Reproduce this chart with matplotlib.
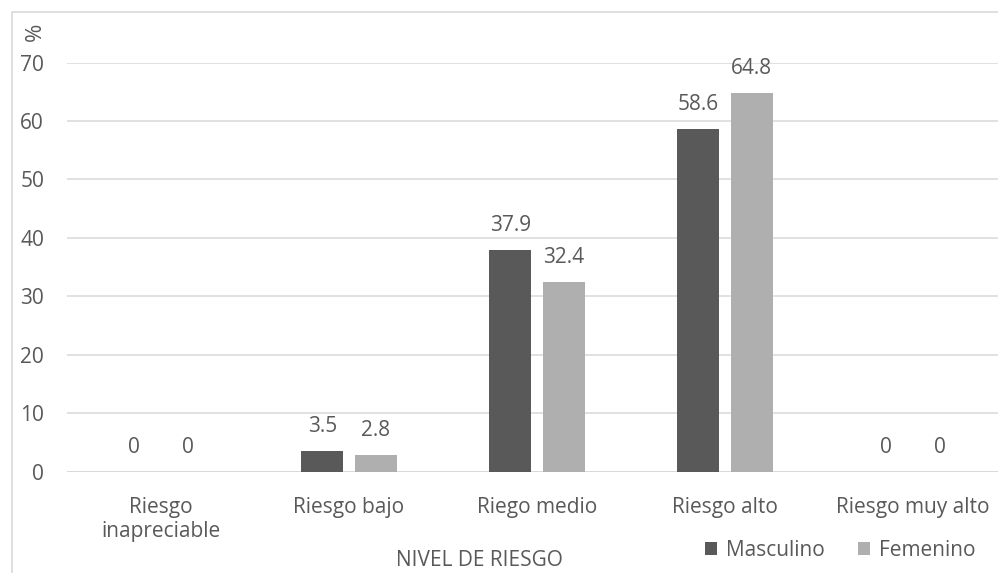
import matplotlib
matplotlib.use('Agg')
import matplotlib.pyplot as plt
import numpy as np
from matplotlib.patches import Rectangle

categorias = ['Riesgo\ninapreciable', 'Riesgo bajo', 'Riego medio', 'Riesgo alto', 'Riesgo muy alto']
masculino = [0, 3.5, 37.9, 58.6, 0]
femenino = [0, 2.8, 32.4, 64.8, 0]
yticks = [0, 10, 20, 30, 40, 50, 60, 70]

TXT = '#595959'
FS = 15
plt.rcParams['font.family'] = ['Open Sans', 'DejaVu Sans']

fig = plt.figure(figsize=(9.98, 5.73), dpi=100)
# el área de trazado se corta por la derecha, como en el original
ax = fig.add_axes([67 / 998, 1 - 471.5 / 573, 940 / 998, 409 / 573])

# marco del gráfico
fig.patches.append(Rectangle((11.5 / 998, -0.1), 1.2, 1 - 11.5 / 573 + 0.1,
                             transform=fig.transFigure, fill=False,
                             edgecolor='#d9d9d9', linewidth=1.2))

x = np.arange(len(categorias))
w = 0.223
off = 0.142
b1 = ax.bar(x - off, masculino, w, color='#595959', label='Masculino', zorder=3)
b2 = ax.bar(x + off, femenino, w, color='#afafaf', label='Femenino', zorder=3)

for bars, vals in ((b1, masculino), (b2, femenino)):
    for r, v in zip(bars, vals):
        ax.annotate(f'{v:g}', (r.get_x() + r.get_width() / 2, v), xytext=(0, 13.5),
                    textcoords='offset points', ha='center', va='baseline',
                    fontsize=FS, color=TXT)

ax.set_xlim(-0.5, len(categorias) - 0.5)
ax.set_ylim(0, 70)
ax.set_yticks(yticks)
ax.set_xticks(x)
ax.set_xticklabels(categorias, fontsize=FS, color=TXT, linespacing=1.25)
ax.tick_params(axis='y', labelsize=FS, colors=TXT, length=0, pad=16.5)
ax.tick_params(axis='x', length=0, pad=18)
ax.grid(axis='y', color='#d9d9d9', linewidth=1.1, zorder=0)
for s in ax.spines.values():
    s.set_visible(False)
ax.axhline(0, color='#d9d9d9', linewidth=1.3, zorder=2)

fig.text(35 / 998, 1 - 32 / 573, '%', rotation=90, ha='center', va='center',
         fontsize=FS + 1, color=TXT)
fig.text(479 / 998, 1 - 561 / 573, 'NIVEL DE RIESGO', ha='center', va='center',
         fontsize=FS, color=TXT)

ax.legend(loc='center', bbox_to_anchor=(840 / 998, 1 - 550 / 573),
          bbox_transform=fig.transFigure, ncol=2, frameon=False,
          fontsize=FS, labelcolor=TXT, handlelength=0.6, handleheight=0.6,
          handletextpad=0.4, columnspacing=1.6)

fig.savefig('out.png', dpi=100)
